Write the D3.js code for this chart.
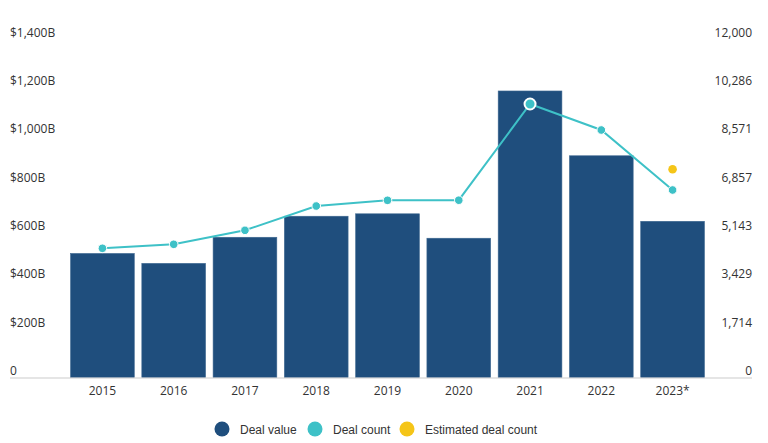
<!DOCTYPE html>
<html><head><meta charset="utf-8">
<script src="https://cdn.jsdelivr.net/npm/d3@7"></script>
<style>body{margin:0;background:#fff;} svg{display:block;}</style>
</head><body>
<svg id="c" width="768" height="443"></svg>
<script>
const years = ["2015","2016","2017","2018","2019","2020","2021","2022","2023*"];
const dealValue = [513, 472, 580, 667, 677, 576, 1185, 917, 646];
const dealCount = [4580, 4722, 5218, 6079, 6281, 6285, 9695, 8774, 6647];
const estimatedDealCount = [null, null, null, null, null, null, null, null, 7380];
const leftTicks = [0, 200, 400, 600, 800, 1000, 1200, 1400];
const rightTicks = [0, 1714, 3429, 5143, 6857, 8571, 10286, 12000];
const legendLabels = ["Deal value", "Deal count", "Estimated deal count"];

const colors = {bar:"#1f4e7d", line:"#3ec1c7", est:"#f5c518", text:"#333333", axis:"#cccccc"};
const svg = d3.select("#c");
const baseY = 377.5, topY = 39;
const x = d3.scaleBand().domain(years).range([67,708]).paddingInner(0.106).paddingOuter(0.05);
const yL = d3.scaleLinear().domain([0,1400]).range([baseY, topY]);
const yR = d3.scaleLinear().domain([0,12000]).range([baseY, topY]);
const font = "'Open Sans', Lato, sans-serif";

// left axis labels
const gl = svg.append("g").attr("transform","translate(10,0)")
  .call(d3.axisLeft(yL).tickValues(leftTicks).tickSize(0).tickFormat(d => d===0 ? "0" : "$" + d3.format(",")(d) + "B"));
gl.select(".domain").remove();
gl.selectAll("text").attr("x",0).attr("dy","-0.25em").attr("text-anchor","start")
  .attr("font-family",font).attr("font-size",12).attr("fill",colors.text);

const gr = svg.append("g").attr("transform","translate(752,0)")
  .call(d3.axisRight(yR).tickValues(rightTicks).tickSize(0).tickFormat((d,i) => d3.format(",")(rightTicks[i])));
gr.select(".domain").remove();
gr.selectAll("text").attr("x",0).attr("dy","-0.25em").attr("text-anchor","end")
  .attr("font-family",font).attr("font-size",12).attr("fill",colors.text);

// bars
svg.append("g").selectAll("rect").data(dealValue).join("rect")
  .attr("x",(d,i)=>x(years[i])).attr("width",x.bandwidth())
  .attr("y",d=>yL(d)).attr("height",d=>baseY-yL(d))
  .attr("fill",colors.bar).attr("stroke","#3d6790").attr("stroke-width",0.6);

// baseline
svg.append("line").attr("x1",10).attr("x2",752).attr("y1",baseY+0.5).attr("y2",baseY+0.5)
  .attr("stroke",colors.axis).attr("stroke-width",1.2);

// x axis
const gx = svg.append("g").attr("transform",`translate(0,${baseY})`)
  .call(d3.axisBottom(x).tickSize(0));
gx.select(".domain").remove();
gx.selectAll("text").attr("dy","0")
  .attr("y",17.5).attr("font-family",font).attr("font-size",12).attr("fill",colors.text);

// line
const cx = i => x(years[i]) + x.bandwidth()/2;
svg.append("path").datum(dealCount)
  .attr("d", d3.line().x((d,i)=>cx(i)).y(d=>yR(d)))
  .attr("fill","none").attr("stroke",colors.line).attr("stroke-width",2);
svg.append("g").selectAll("circle").data(dealCount).join("circle")
  .attr("cx",(d,i)=>cx(i)).attr("cy",d=>yR(d))
  .attr("r",(d,i)=> i===6 ? 5.5 : 4.3)
  .attr("fill",colors.line).attr("stroke","#fff").attr("stroke-width",(d,i)=> i===6 ? 2 : 1);
svg.append("g").selectAll("circle").data(estimatedDealCount.map((v,i)=>({v,i})).filter(d=>d.v!=null)).join("circle")
  .attr("cx",d=>cx(d.i)).attr("cy",d=>yR(d.v)).attr("r",4.3).attr("fill",colors.est);

// legend
const legendColors = [colors.bar, colors.line, colors.est];
const legendX = [222, 315, 407];
const lg = svg.append("g");
legendLabels.forEach((t,i)=>{
  lg.append("circle").attr("cx",legendX[i]).attr("cy",429).attr("r",7.5).attr("fill",legendColors[i]);
  lg.append("text").attr("x",legendX[i]+18).attr("y",433.5).text(t)
    .attr("font-family","'Liberation Sans', Arial, sans-serif").attr("font-size",12).attr("fill",colors.text);
});
</script>
</body></html>
